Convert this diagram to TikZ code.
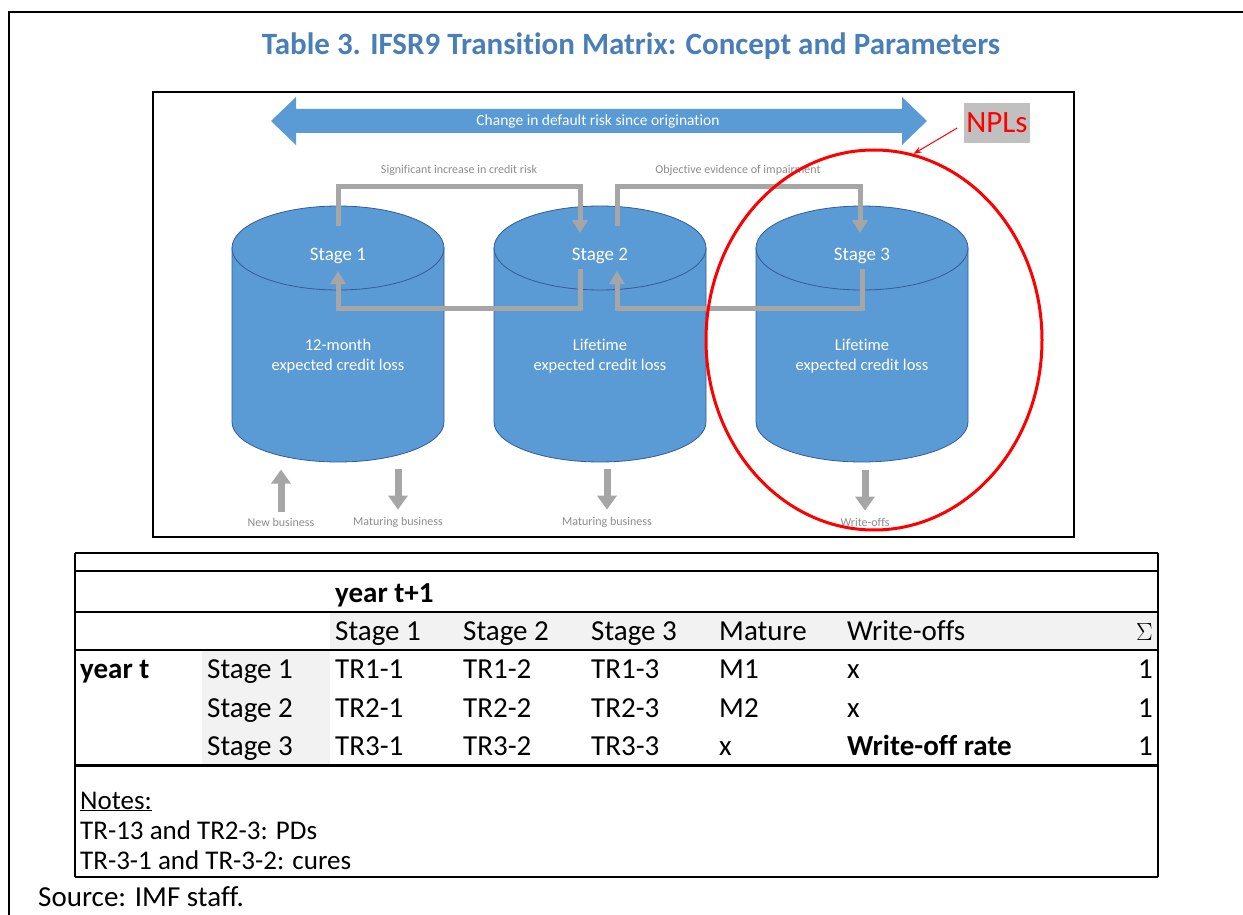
\documentclass[tikz,border=0pt]{standalone}
\usepackage{fontspec}
\setmainfont{Carlito}[Ligatures=NoCommon]
\usetikzlibrary{arrows.meta,shapes.geometric}

\definecolor{cylblue}{RGB}{91,155,213}
\definecolor{cyledge}{RGB}{52,92,150}
\definecolor{flowgray}{RGB}{166,166,166}
\definecolor{labgray}{RGB}{140,140,140}
\definecolor{titleblue}{RGB}{74,126,183}
\definecolor{cellgray}{RGB}{242,242,242}
\definecolor{nplgray}{RGB}{192,192,192}

\begin{document}
\begin{tikzpicture}[x=1pt, y=-1pt,
    flow/.style={draw=flowgray, line width=5pt, -{Triangle[width=15pt,length=13pt]}},
    bigflow/.style={draw=flowgray, line width=7pt, -{Triangle[width=19pt,length=14pt]}},
    tinylab/.style={text=labgray, inner sep=1pt, font=\fontsize{12}{14}\selectfont},
    cell/.style={anchor=base west, inner sep=0pt, font=\fontsize{29}{31}\selectfont},
    notecell/.style={anchor=base west, inner sep=0pt, font=\fontsize{27}{29}\selectfont}]
    \useasboundingbox (0,0) rectangle (1243,915);

    % Outer frame and title
    \draw[line width=2pt] (9,915) -- (9,12) -- (1243,12);
    \node[text=titleblue, font=\bfseries\fontsize{31}{33}\selectfont] (title) at (631,46) {Table 3. IFSR9 Transition Matrix: Concept and Parameters};

    % Picture box
    \draw[line width=1.8pt] (153,92) rectangle (1074,537);

    % Risk arrow (two heads)
    \fill[cylblue] (271,121) -- (296,97) -- (296,109) -- (902,109) -- (902,97) -- (927,121)
        -- (902,145) -- (902,133) -- (296,133) -- (296,145) -- cycle;
    \node[text=white, inner sep=1pt, font=\fontsize{15.5}{17}\selectfont] (riskarrow) at (598,121) {Change in default risk since origination};

    % Stage cylinders
    \foreach \cx/\nm/\lbl/\txt in {338/stage1/Stage 1/12-month, 600/stage2/Stage 2/Lifetime, 862/stage3/Stage 3/Lifetime} {
        \filldraw[fill=cylblue, draw=cyledge, line width=0.8pt] (\cx-106,248) -- (\cx-106,422)
            arc[start angle=180, end angle=0, x radius=106, y radius=40] -- (\cx+106,248) -- cycle;
        \filldraw[fill=cylblue, draw=cyledge, line width=0.8pt] (\cx,248) ellipse[x radius=106, y radius=42];
        \node[text=white, font=\fontsize{19}{21}\selectfont] (\nm) at (\cx,256) {\lbl};
        \node[text=white, align=center, font=\fontsize{16.5}{20}\selectfont] (\nm-loss) at (\cx,356) {\txt\\expected credit loss};
    }

    % Transitions between stages
    \coordinate (s1-out) at (338,226);
    \coordinate (s1-in) at (338,271);
    \coordinate (s2-in) at (580,233);
    \coordinate (s2-out) at (617,226);
    \coordinate (s2-back) at (580,269);
    \coordinate (s2-up) at (617,271);
    \coordinate (s3-in) at (860,233);
    \coordinate (s3-back) at (862,269);
    \draw[flow] (s1-out) -- ++(0,-39) -| (s2-in);
    \draw[flow] (s2-out) -- ++(0,-39) -| (s3-in);
    \draw[flow] (s2-back) -- ++(0,39) -| (s1-in);
    \draw[flow] (s3-back) -- ++(0,39) -| (s2-up);
    \node[tinylab] (sicr) at (459,170) {Significant increase in credit risk};
    \node[tinylab] (oei) at (738,170) {Objective evidence of impairment};

    % Flows in and out
    \node[tinylab] (newbiz) at (281,522) {New business};
    \node[tinylab] (mature1) at (398,522) {Maturing business};
    \node[tinylab] (mature2) at (607,522) {Maturing business};
    \node[tinylab] (writeoff) at (865,522) {Write-offs};
    \draw[bigflow] ([yshift=5pt]newbiz.north) -- ++(0,-42);
    \foreach \nm in {mature1, mature2, writeoff}
        \draw[bigflow] ([yshift=47pt]\nm.north) -- ([yshift=6pt]\nm.north);

    % NPL ring
    \node[draw=red, ellipse, line width=3pt, minimum width=336pt, minimum height=380pt, inner sep=0pt] (nplring) at (874,340) {};
    \node[fill=nplgray, text=red, inner xsep=2pt, minimum height=40pt, font=\fontsize{31}{33}\selectfont] (npl) at (997,123) {NPLs};
    \draw[red, line width=1pt, -{Stealth[length=8pt,width=6pt]}] ([shift={(-7,5)}]npl.west) -- (nplring.78);

    % Matrix table
    \fill[cellgray] (330,612) rectangle (1158,650);
    \fill[cellgray] (202,650) rectangle (330,765);
    \foreach \yy/\lw in {553/1.5, 571/2.5, 612/2, 650/2, 765/3, 877/2}
        \draw[line width=\lw pt] (75,\yy) -- (1158,\yy);
    \draw[line width=2pt] (75,553) -- (75,877);
    \draw[line width=2pt] (1158,553) -- (1158,877);

    \node[cell, font=\bfseries\fontsize{29}{31}\selectfont] (yearnext) at (335,602) {year t+1};
    \foreach \x/\t [count=\i] in {335/Stage 1, 463/Stage 2, 591/Stage 3, 719/Mature, 847/Write-offs}
        \node[cell] (head\i) at (\x,640) {\t};
    \node[cell, anchor=base east] (headsum) at (1153,640) {$\Sigma$};

    \node[cell, font=\bfseries\fontsize{29}{31}\selectfont] (yearnow) at (80,678) {year t};
    \foreach \r/\y/\m/\w in {1/678/M1/x, 2/717/M2/x, 3/755/x/{\textbf{Write-off rate}}} {
        \node[cell] (from\r) at (207,\y) {Stage \r};
        \foreach \c in {1,2,3}
            \node[cell] (tr\r\c) at ({207+128*\c},\y) {TR\r-\c};
        \node[cell] (mat\r) at (719,\y) {\m};
        \node[cell] (wo\r) at (847,\y) {\w};
        \node[cell, anchor=base east] (sum\r) at (1153,\y) {1};
    }

    % Notes and source
    \node[notecell] (notes) at (80,809) {\underline{Notes:}};
    \node[notecell] (note1) at (80,839) {TR-13 and TR2-3: PDs};
    \node[notecell] (note2) at (80,869) {TR-3-1 and TR-3-2: cures};
    \node[cell] (source) at (38,906) {Source: IMF staff.};
\end{tikzpicture}
\end{document}
